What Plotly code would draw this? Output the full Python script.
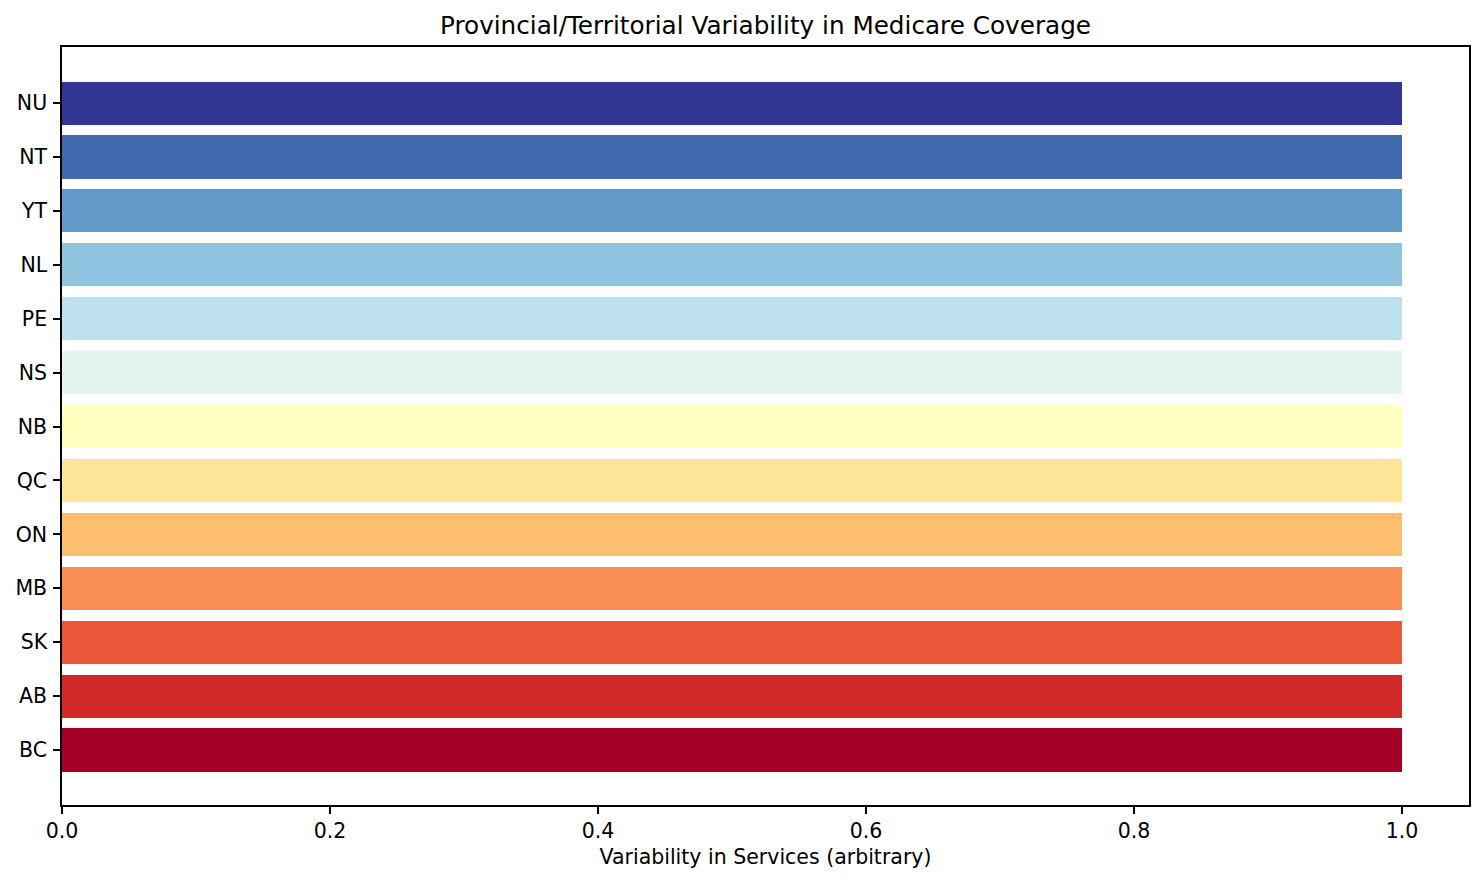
import plotly.graph_objects as go

provinces = ["BC", "AB", "SK", "MB", "ON", "QC", "NB", "NS", "PE", "NL", "YT", "NT", "NU"]
variability = [1, 1, 1, 1, 1, 1, 1, 1, 1, 1, 1, 1, 1]
colors = ["#a50026", "#d02927", "#ea5739", "#f98e52", "#fdbe70", "#fee597",
          "#ffffbf", "#e4f4f1", "#bde2ee", "#90c3dd", "#649ac7", "#4169ae", "#313695"]

fig = go.Figure(go.Bar(
    x=variability, y=list(range(len(provinces))), orientation="h",
    marker=dict(color=colors, line=dict(width=0)), width=0.8,
))

axis_common = dict(showline=True, linecolor="black", linewidth=1.5, mirror=True,
                   ticks="outside", ticklen=7, tickwidth=1.5, tickcolor="black", showgrid=False,
                   zeroline=False, tickfont=dict(size=20.5, color="black"))

fig.update_layout(
    width=1484, height=884,
    margin=dict(l=62, r=15, t=47, b=79),
    plot_bgcolor="white", paper_bgcolor="white",
    font=dict(family="DejaVu Sans", color="black"),
    title=dict(text="Provincial/Territorial Variability in Medicare Coverage",
               xref="paper", x=0.5, xanchor="center", y=1 - 25 / 884, yanchor="middle",
               font=dict(size=24.7)),
    xaxis=dict(range=[0, 1.05], tickvals=[0, 0.2, 0.4, 0.6, 0.8, 1.0],
               ticktext=["0.0", "0.2", "0.4", "0.6", "0.8", "1.0"],
               title=dict(text="Variability in Services (arbitrary)", font=dict(size=20.5), standoff=7),
               **axis_common),
    yaxis=dict(range=[-1.02, 13.04], tickvals=list(range(len(provinces))),
               ticktext=provinces, ticklabelstandoff=2, **axis_common),
    showlegend=False, bargap=0,
)

fig.write_html("out.html")
